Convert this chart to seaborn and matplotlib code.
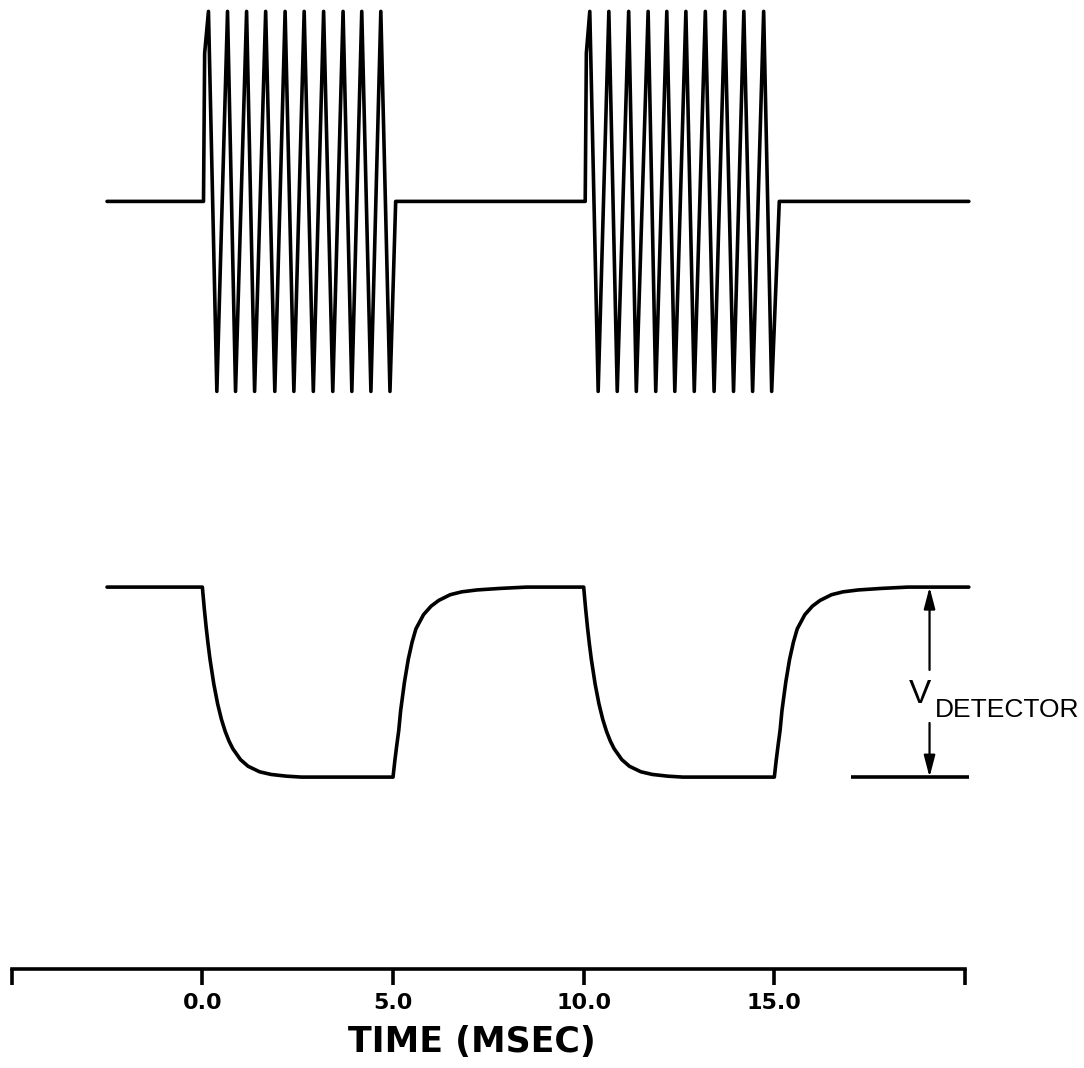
"""
plot.py
Drive signal bursts (top) and detector response (bottom) versus time.
"""
import numpy as np
import pandas as pd
import matplotlib
matplotlib.use("Agg")
import matplotlib.pyplot as plt
import seaborn as sns

# ---------------------------------------------------------------
# Data (time in msec)
# ---------------------------------------------------------------
TRACE_START = -2.5
TRACE_END = 20.1

# drive burst: vertices of each burst (start, peaks/troughs, end)
BURST_A_T = [0.03, 0.06, 0.16, 0.38, 0.66, 0.87, 1.16, 1.37, 1.66, 1.90, 2.17,
             2.40, 2.67, 2.91, 3.18, 3.42, 3.69, 3.92, 4.18, 4.42, 4.68, 4.92, 5.07]
BURST_B_T = [10.04, 10.07, 10.16, 10.38, 10.66, 10.88, 11.18, 11.38, 11.69, 11.89, 12.18,
             12.39, 12.68, 12.90, 13.19, 13.42, 13.70, 13.93, 14.20, 14.43, 14.72, 14.93, 15.13]
BURST_V = [0, 0.78, 1, -1, 1, -1, 1, -1, 1, -1, 1,
           -1, 1, -1, 1, -1, 1, -1, 1, -1, 1, -1, 0]

# detector: edges and transition shapes
FALL_EDGES = [0.0, 10.0]
RISE_EDGES = [5.0, 15.0]
FALL_DT = [0, 0.05, 0.1, 0.15, 0.2, 0.3, 0.4, 0.5, 0.6, 0.7, 0.8, 1.0, 1.2, 1.5, 1.8, 2.2, 2.6]
FALL_V = [1, 0.888, 0.788, 0.70, 0.621, 0.49, 0.386, 0.304, 0.24, 0.189, 0.149, 0.092,
          0.057, 0.028, 0.014, 0.005, 0.0]
RISE_DT = [0, 0.05, 0.1, 0.15, 0.2, 0.3, 0.4, 0.5, 0.6, 0.8, 1.0, 1.2, 1.5, 1.8, 2.2, 2.8, 3.5]
RISE_V = [0, 0.09, 0.17, 0.245, 0.35, 0.5, 0.62, 0.71, 0.78, 0.855, 0.9, 0.93, 0.96,
          0.975, 0.985, 0.993, 1.0]

REF_LINE_T = [17.0, 20.1]      # lower reference line of V_DETECTOR
ARROW_T = 19.07

TICKS = [-5, 0, 5, 10, 15, 20]
TICK_LABELS = ["", "0.0", "5.0", "10.0", "15.0", ""]

# vertical placement of the two traces
DRIVE_BASE, DRIVE_AMP = 4.04, 1.0
DET_LOW, DET_AMP = 1.01, 1.0

# ---------------------------------------------------------------
# Build traces
# ---------------------------------------------------------------
drive = pd.DataFrame({
    "t": [TRACE_START] + BURST_A_T + BURST_B_T + [TRACE_END],
    "v": [0] + BURST_V + BURST_V + [0],
})
drive["y"] = DRIVE_BASE + DRIVE_AMP * drive["v"]

det_t, det_v = [TRACE_START], [1.0]
for f, r in zip(FALL_EDGES, RISE_EDGES):
    det_t += [f + d for d in FALL_DT]
    det_v += FALL_V
    det_t += [r + d for d in RISE_DT]
    det_v += RISE_V
det_t.append(TRACE_END)
det_v.append(1.0)
det = pd.DataFrame({"t": det_t, "v": det_v})
det["y"] = DET_LOW + DET_AMP * det["v"]

# ---------------------------------------------------------------
# Plot
# ---------------------------------------------------------------
sns.set_theme(style="white")
plt.rcParams["font.family"] = ["DejaVu Sans"]
plt.rcParams["text.color"] = "black"
plt.rcParams["axes.labelcolor"] = "black"
plt.rcParams["xtick.color"] = "black"

W, H = 1084, 1068
fig = plt.figure(figsize=(W / 100, H / 100), dpi=100)
ax = fig.add_axes([11.7 / W, (H - 969) / H, 953.3 / W, 969 / H])
ax.set_xlim(-5, 20)
ax.set_ylim(0, 969 / 190)

LW = 2.6
for d in (drive, det):
    sns.lineplot(data=d, x="t", y="y", sort=False, estimator=None,
                 color="black", linewidth=LW, ax=ax, clip_on=False)

ax.plot(REF_LINE_T, [DET_LOW, DET_LOW], color="black", lw=LW, clip_on=False,
        solid_capstyle="butt")

# double arrow, broken around the label
arrow_style = "-|>,head_length=0.65,head_width=0.17"
ax.annotate("", xy=(ARROW_T, DET_LOW + DET_AMP), xytext=(ARROW_T, 1.574),
            arrowprops=dict(arrowstyle=arrow_style, lw=1.6, color="black",
                            mutation_scale=20, shrinkA=0, shrinkB=0),
            annotation_clip=False)
ax.annotate("", xy=(ARROW_T, DET_LOW), xytext=(ARROW_T, 1.295),
            arrowprops=dict(arrowstyle=arrow_style, lw=1.6, color="black",
                            mutation_scale=20, shrinkA=0, shrinkB=0),
            annotation_clip=False)
ax.text(18.54, 1.40, "V", fontsize=24, family="Liberation Sans", color="black",
        va="baseline", ha="left", clip_on=False)
ax.text(19.2, 1.326, "DETECTOR", fontsize=19, family="Liberation Sans", color="black",
        va="baseline", ha="left", clip_on=False)

# time axis
for side in ("top", "left", "right"):
    ax.spines[side].set_visible(False)
ax.spines["bottom"].set_linewidth(LW)
ax.spines["bottom"].set_color("black")
ax.set_yticks([])
ax.set_xticks(TICKS)
ax.set_xticklabels(TICK_LABELS, fontsize=16, fontweight="bold", color="black")
ax.tick_params(axis="x", direction="out", length=11.5, width=LW, pad=6,
               color="black", bottom=True)
ax.set_xlabel("TIME (MSEC)", fontsize=25, fontweight="bold", va="baseline",
              color="black")
ax.xaxis.set_label_coords(0.483, -83 / 969)
ax.set_ylabel("")

fig.savefig("out.png", dpi=100)
